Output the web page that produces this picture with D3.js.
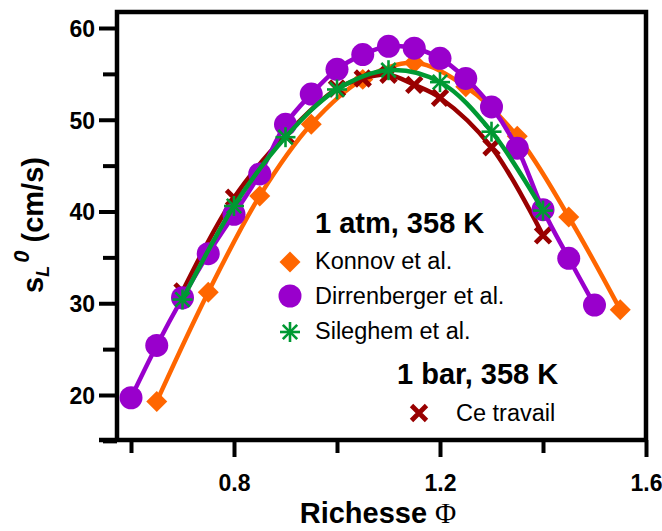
<!DOCTYPE html>
<html><head><meta charset="utf-8">
<script src="https://cdn.jsdelivr.net/npm/d3@7"></script>
<style>
html,body{margin:0;padding:0;background:#fff;}
svg{display:block;}
text{font-family:"Liberation Sans",Arial,sans-serif;}
</style></head>
<body>
<svg id="chart" width="662" height="531"></svg>
<script>
// ---- data ----
const konnovPhi = [0.65,0.75,0.85,0.95,1.05,1.15,1.25,1.35,1.45,1.55];
const konnovS   = [19.3,31.2,41.7,49.5,54.4,56.2,53.6,48.2,39.4,29.3];
const dirrPhi = [0.6,0.65,0.7,0.75,0.8,0.85,0.9,0.95,1.0,1.05,1.1,1.15,1.2,1.25,1.3,1.35,1.4,1.45,1.5];
const dirrS   = [19.7,25.4,30.6,35.4,39.7,44.1,49.5,52.8,55.5,57.1,58.0,57.8,56.7,54.5,51.4,46.9,40.2,34.9,29.8];
const silPhi = [0.7,0.8,0.9,1.0,1.1,1.2,1.3,1.4];
const silS   = [30.4,40.6,48.1,53.3,55.4,54.1,48.7,40.1];
const cePhi = [0.7,0.8,0.9,1.0,1.05,1.1,1.15,1.2,1.3,1.4];
const ceS   = [31.3,41.5,48.3,53.4,54.5,54.9,53.8,52.4,47.0,37.4];
const xTicks = [0.6,0.8,1.0,1.2,1.4,1.6];
const xTickLabels = ["","0.8","","1.2","","1.6"];
const yTicks = [15,20,25,30,35,40,45,50,55,60];
const yTickLabels = {20:"20",30:"30",40:"40",50:"50",60:"60"};

const svg = d3.select("#chart");
const L=117, R=646, T=12, B=440;
const x = d3.scaleLinear().domain([0.6,1.6]).range([131,646]);
const y = d3.scaleLinear().domain([20,60]).range([395,28]);

const cOr="#ff6600", cPu="#9900cc", cGr="#009933", cRd="#990000";

// frame
svg.append("path").attr("d",`M${L},${B}V${T}H${R}V${B}`).attr("fill","none").attr("stroke","#000").attr("stroke-width",4.5);
// bottom axis
const xAxis = d3.axisBottom(x).tickValues(xTicks).tickFormat("").tickSize(0);
const gx = svg.append("g").attr("transform",`translate(0,${B})`).call(xAxis);
gx.select(".domain").remove();
svg.append("line").attr("x1",99).attr("x2",R+2).attr("y1",B).attr("y2",B).attr("stroke","#000").attr("stroke-width",4.5);
gx.selectAll(".tick line").attr("y2",(d,i)=>xTickLabels[i]?17:13).attr("stroke","#000").attr("stroke-width",4);
gx.selectAll(".tick").append("text").text((d,i)=>xTickLabels[i])
  .attr("y",51).attr("fill","#000").attr("text-anchor","middle")
  .style("font-size","23px").style("font-weight","bold");

// left axis
const yAxis = d3.axisLeft(y).tickValues(yTicks).tickFormat("").tickSize(0);
const gy = svg.append("g").attr("transform",`translate(${L},0)`).call(yAxis);
gy.select(".domain").remove();
gy.selectAll(".tick line").attr("x2",d=>(d%10===0)?-18:-14).attr("stroke","#000").attr("stroke-width",4);
gy.selectAll(".tick").append("text").text(d=>yTickLabels[d]||"")
  .attr("x",-22).attr("dy","0.36em").attr("fill","#000").attr("text-anchor","end")
  .style("font-size","23px").style("font-weight","bold");

// axis titles
const xt = svg.append("text").attr("x",378).attr("y",523).attr("text-anchor","middle")
  .style("font-size","29px").style("font-weight","bold").attr("fill","#000");
xt.append("tspan").text("Richesse ");
xt.append("tspan").text("Φ").style("font-family","'Liberation Serif','Times New Roman',serif").style("font-weight","normal").style("font-size","29px");

const yt = svg.append("text").attr("transform","translate(43,225) rotate(-90)").attr("text-anchor","middle")
  .style("font-size","29px").style("font-weight","bold").attr("fill","#000");
yt.append("tspan").text("s");
yt.append("tspan").text("L").style("font-size","18px").style("font-style","italic").attr("dy",6);
yt.append("tspan").text("0").style("font-size","22px").style("font-style","italic").attr("dy",-20).attr("dx",3);
yt.append("tspan").text(" (cm/s)").attr("dy",14);

// series
const line = d3.line().x(d=>x(d[0])).y(d=>y(d[1])).curve(d3.curveCatmullRom.alpha(0.5));
const zip=(a,b)=>a.map((v,i)=>[v,b[i]]);
const kon=zip(konnovPhi,konnovS), dir=zip(dirrPhi,dirrS), sil=zip(silPhi,silS), ce=zip(cePhi,ceS);

function diamond(g,cx,cy,col){g.append("path").attr("d",d3.symbol(d3.symbolSquare,220)()).attr("transform",`translate(${cx},${cy}) rotate(45)`).attr("fill",col);}
function circle(g,cx,cy,col){g.append("circle").attr("cx",cx).attr("cy",cy).attr("r",11.5).attr("fill",col);}
function star(g,cx,cy,col){
  const s=10;
  [[0,-s,0,s],[-s,0,s,0],[-s*0.72,-s*0.72,s*0.72,s*0.72],[-s*0.72,s*0.72,s*0.72,-s*0.72]].forEach(a=>
    g.append("line").attr("x1",cx+a[0]).attr("y1",cy+a[1]).attr("x2",cx+a[2]).attr("y2",cy+a[3]).attr("stroke",col).attr("stroke-width",2.6));
}
function cross(g,cx,cy,col){
  const s=7.5;
  g.append("path").attr("d",`M${cx-s},${cy-s}L${cx+s},${cy+s}M${cx-s},${cy+s}L${cx+s},${cy-s}`).attr("stroke",col).attr("stroke-width",4.8).attr("fill","none");
}

const gK=svg.append("g"), gC=svg.append("g"), gD=svg.append("g"), gS=svg.append("g");
gK.append("path").datum(kon).attr("d",line).attr("fill","none").attr("stroke",cOr).attr("stroke-width",4.5);
kon.forEach(d=>diamond(gK,x(d[0]),y(d[1]),cOr));
gC.append("path").datum(ce).attr("d",line).attr("fill","none").attr("stroke",cRd).attr("stroke-width",4.5);
ce.forEach(d=>cross(gC,x(d[0]),y(d[1]),cRd));
gD.append("path").datum(dir).attr("d",line).attr("fill","none").attr("stroke",cPu).attr("stroke-width",4.5);
dir.forEach(d=>circle(gD,x(d[0]),y(d[1]),cPu));
gS.append("path").datum(sil).attr("d",line).attr("fill","none").attr("stroke",cGr).attr("stroke-width",4.5);
sil.forEach(d=>star(gS,x(d[0]),y(d[1]),cGr));

// legend
const lg=svg.append("g");
lg.append("text").attr("x",315).attr("y",233).text("1 atm, 358 K").style("font-size","29px").style("font-weight","bold");
diamond(lg,290,262,cOr);
circle(lg,290,296,cPu);
star(lg,290,332,cGr);
lg.append("text").attr("x",315).attr("y",269).text("Konnov et al.").style("font-size","23.5px");
lg.append("text").attr("x",315).attr("y",304).text("Dirrenberger et al.").style("font-size","23.5px");
lg.append("text").attr("x",315).attr("y",339).text("Sileghem et al.").style("font-size","23.5px");
lg.append("text").attr("x",397).attr("y",384).text("1 bar, 358 K").style("font-size","29px").style("font-weight","bold");
cross(lg,419,413,cRd);
lg.append("text").attr("x",456).attr("y",421).text("Ce travail").style("font-size","23.5px");
</script>
</body></html>
